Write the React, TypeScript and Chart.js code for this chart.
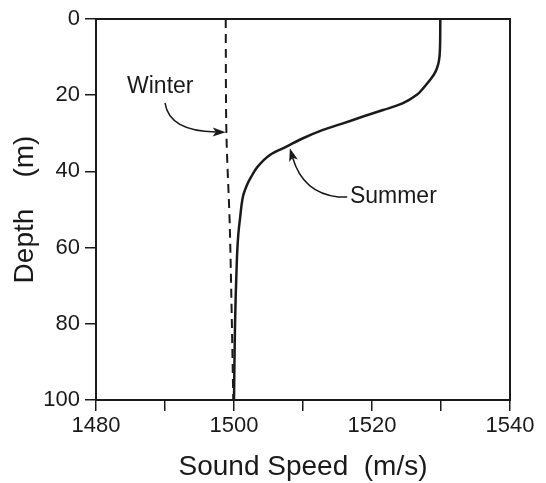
import React, { useEffect, useRef } from 'react';
import { Chart, registerables } from 'chart.js';

Chart.register(...registerables);

// ---- Data ----
const summerDepths = [0, 8, 11, 13, 14.5, 16, 18, 19.9, 22.1, 23.9, 25.6, 27.4, 29.1, 31.3, 33.5, 35.7, 38.8, 41.4, 43.5, 46.6, 51.9, 57.1, 64.1, 80, 100];
const summerSpeeds = [1529.9, 1529.85, 1529.7, 1529.4, 1529.0, 1528.4, 1527.5, 1526.5, 1524.5, 1521.6, 1518.7, 1515.8, 1512.9, 1510.0, 1507.6, 1505.2, 1503.4, 1502.5, 1501.9, 1501.3, 1500.9, 1500.6, 1500.4, 1500.15, 1500.0];
const winterDepths = [0, 30, 55, 100];
const winterSpeeds = [1498.8, 1498.9, 1499.4, 1499.9];

const xTickValues = [1480, 1500, 1520, 1540];
const yTickValues = [0, 20, 40, 60, 80, 100];

const xTitle = 'Sound Speed  (m/s)';
const yTitle = 'Depth    (m)';

// Annotation anchors in data units [speed, depth]
const winterLabelAt = [1484.5, 17.8];
const winterArrowPts = [[1490.0, 22.0], [1490.6, 29.4], [1498.8, 29.7]];
const summerLabelAt = [1516.8, 46.6];
const summerArrowPts = [[1516.4, 46.7], [1515.1, 46.7], [1510.0, 45.7], [1508.1, 33.9]];

const FONT = '"Liberation Sans", Arial, Helvetica, sans-serif';
const INK = '#1a1a1a';

function toXY(speeds: number[], depths: number[]) {
  return speeds.map((s, i) => ({ x: s, y: depths[i] }));
}

const framePlugin = {
  id: 'frameAndNotes',
  afterDraw(chart: any) {
    const { ctx, chartArea } = chart;
    const xs = chart.scales.x;
    const ys = chart.scales.y;
    const P = (p: number[]) => [xs.getPixelForValue(p[0]), ys.getPixelForValue(p[1])];
    ctx.save();
    // frame
    ctx.strokeStyle = INK;
    ctx.lineWidth = 2;
    ctx.strokeRect(chartArea.left, chartArea.top, chartArea.right - chartArea.left, chartArea.bottom - chartArea.top);

    // labels
    ctx.fillStyle = INK;
    ctx.font = '23px ' + FONT;
    ctx.textBaseline = 'middle';
    ctx.textAlign = 'left';
    const wl = P(winterLabelAt);
    ctx.fillText('Winter', wl[0], wl[1]);
    const sl = P(summerLabelAt);
    ctx.fillText('Summer', sl[0], sl[1]);

    const arrowHead = (from: number[], tip: number[]) => {
      const ang = Math.atan2(tip[1] - from[1], tip[0] - from[0]);
      const L = 13, W = 4.5;
      const bx = tip[0] - L * Math.cos(ang);
      const by = tip[1] - L * Math.sin(ang);
      ctx.beginPath();
      ctx.moveTo(tip[0], tip[1]);
      ctx.lineTo(bx + W * Math.sin(ang), by - W * Math.cos(ang));
      ctx.lineTo(bx + 3 * Math.cos(ang), by + 3 * Math.sin(ang));
      ctx.lineTo(bx - W * Math.sin(ang), by + W * Math.cos(ang));
      ctx.closePath();
      ctx.fill();
      return [bx + 3 * Math.cos(ang), by + 3 * Math.sin(ang)];
    };

    ctx.lineWidth = 1.5;
    // winter arrow
    const w0 = P(winterArrowPts[0]);
    const wc = P(winterArrowPts[1]);
    const wt = P(winterArrowPts[2]);
    const wEnd = arrowHead(wc, wt);
    ctx.beginPath();
    ctx.moveTo(w0[0], w0[1]);
    ctx.quadraticCurveTo(wc[0], wc[1], wEnd[0], wEnd[1]);
    ctx.stroke();

    // summer arrow
    const s0 = P(summerArrowPts[0]);
    const s1 = P(summerArrowPts[1]);
    const sc = P(summerArrowPts[2]);
    const st = P(summerArrowPts[3]);
    const sEnd = arrowHead(sc, st);
    ctx.beginPath();
    ctx.moveTo(s0[0], s0[1]);
    ctx.lineTo(s1[0], s1[1]);
    ctx.quadraticCurveTo(sc[0], sc[1], sEnd[0], sEnd[1]);
    ctx.stroke();
    ctx.restore();
  },
};

export default function App() {
  const ref = useRef<HTMLCanvasElement | null>(null);
  useEffect(() => {
    if (!ref.current) return;
    Chart.defaults.font.family = FONT;
    Chart.defaults.color = INK;
    const chart = new Chart(ref.current, {
      type: 'line',
      data: {
        datasets: [
          {
            label: 'Summer',
            data: toXY(summerSpeeds, summerDepths),
            borderColor: INK,
            borderWidth: 2.5,
            pointRadius: 0,
            tension: 0.35,
            fill: false,
          },
          {
            label: 'Winter',
            data: toXY(winterSpeeds, winterDepths),
            borderColor: INK,
            borderWidth: 2,
            borderDash: [9, 6],
            pointRadius: 0,
            tension: 0.3,
            fill: false,
          },
        ],
      } as any,
      options: {
        animation: false,
        responsive: false,
        layout: { padding: { top: 19, right: 36, left: 0, bottom: 0 } },
        plugins: { legend: { display: false }, tooltip: { enabled: false } },
        scales: {
          x: {
            type: 'linear',
            position: 'bottom',
            min: 1480,
            max: 1540,
            afterFit: (s: any) => { s.height = 83; },
            ticks: {
              stepSize: 10,
              autoSkip: false,
              maxRotation: 0,
              padding: 2,
              color: INK,
              font: { size: 22, family: FONT },
              callback: (v: any) => (xTickValues.includes(Number(v)) ? String(v) : ''),
            },
            grid: { drawOnChartArea: false, drawTicks: true, tickLength: 11, color: INK, lineWidth: 1.5 },
            border: { display: false },
            title: { display: true, text: xTitle, color: INK, font: { size: 28, family: FONT, lineHeight: 1 }, padding: { top: 0, bottom: 2 } },
          },
          y: {
            type: 'linear',
            reverse: true,
            min: 0,
            max: 100,
            afterFit: (s: any) => { s.width = 96; },
            ticks: {
              stepSize: 20,
              autoSkip: false,
              padding: 5,
              color: INK,
              font: { size: 22, family: FONT },
              callback: (v: any) => (yTickValues.includes(Number(v)) ? String(v) : ''),
            },
            grid: { drawOnChartArea: false, drawTicks: true, tickLength: 11, color: INK, lineWidth: 1.5 },
            border: { display: false },
            title: { display: true, text: yTitle, color: INK, font: { size: 28, family: FONT, lineHeight: 1 }, padding: { top: 11, bottom: 0 } },
          },
        },
      } as any,
      plugins: [framePlugin],
    });
    return () => chart.destroy();
  }, []);
  return (
    <div style={{ position: 'fixed', left: 0, top: 0, width: 546, height: 483, background: '#fff' }}>
      <canvas ref={ref} width={546} height={483} style={{ display: 'block', width: 546, height: 483 }} />
    </div>
  );
}
